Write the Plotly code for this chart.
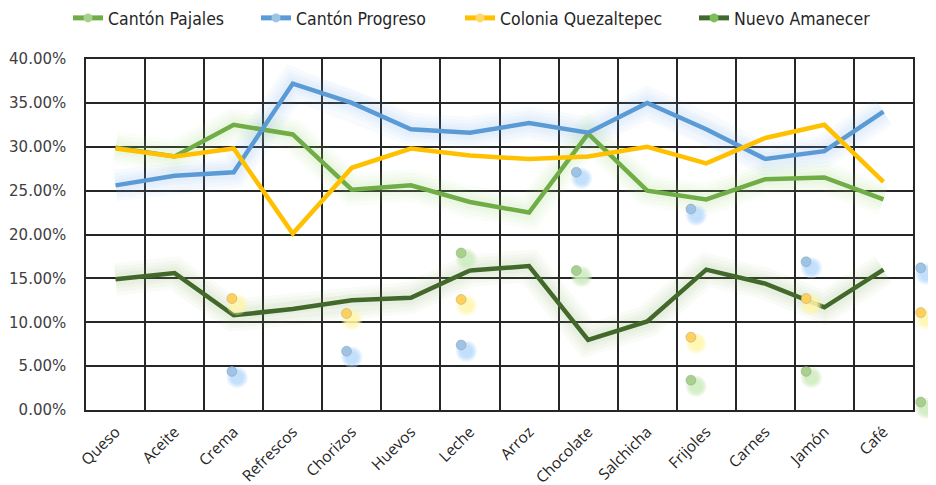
import plotly.graph_objects as go

categories = ["Queso", "Aceite", "Crema", "Refrescos", "Chorizos", "Huevos", "Leche",
              "Arroz", "Chocolate", "Salchicha", "Frijoles", "Carnes", "Jamón", "Café"]

canton_pajales = [29.9, 28.9, 32.5, 31.4, 25.1, 25.6, 23.7, 22.5, 31.5, 25.0, 24.0, 26.3, 26.5, 24.0]
canton_progreso = [25.6, 26.7, 27.1, 37.2, 35.0, 32.0, 31.6, 32.7, 31.6, 35.0, 32.0, 28.6, 29.5, 34.0]
colonia_quezaltepec = [29.8, 28.9, 29.8, 20.1, 27.6, 29.8, 29.0, 28.6, 28.9, 30.0, 28.1, 31.0, 32.5, 26.0]
nuevo_amanecer = [14.9, 15.6, 10.8, 11.5, 12.5, 12.8, 15.9, 16.4, 8.0, 10.1, 16.0, 14.4, 11.7, 16.0]

# stray marker dots visible in the reference (category position, value %)
dots_blue_x = [1.97, 3.91, 5.85, 7.80, 9.74, 11.69, 13.63]
dots_blue_y = [4.4, 6.7, 7.4, 27.1, 22.9, 16.9, 16.2]
dots_yellow_x = [1.97, 3.91, 5.85, 9.74, 11.69, 13.63]
dots_yellow_y = [12.7, 11.0, 12.6, 8.3, 12.7, 11.1]
dots_green_x = [5.85, 7.80, 9.74, 11.69, 13.63]
dots_green_y = [17.9, 15.9, 3.4, 4.4, 0.9]

series = [
    ("Cantón Pajales", canton_pajales, "#70ad47", "#a9d18e", (150, 210, 110)),
    ("Cantón Progreso", canton_progreso, "#5b9bd5", "#9dc3e6", (120, 180, 240)),
    ("Colonia Quezaltepec", colonia_quezaltepec, "#ffc000", "#ffd966", None),
    ("Nuevo Amanecer", nuevo_amanecer, "#43682b", "#7cbf5a", (140, 175, 100)),
]

# the page body adds an 8px offset; the figure fills the rest of the window
W, H = 928, 477
ML, MT, MB = 78, 51, 75
PLOT_W = 827            # width of the gridded area in px
FULL_W = W - ML         # area incl. right margin (for the dots past the last column)
legend_x = [60, 248, 452, 686]

xs = list(range(len(categories)))
n = len(categories)
fig = go.Figure()

# soft glow layers
for name, vals, col, mcol, glow in series:
    if glow:
        r, g, b = glow
        for w in (32, 25, 18, 12):
            fig.add_trace(go.Scatter(x=xs, y=vals, mode="lines", showlegend=False,
                                     hoverinfo="skip",
                                     line=dict(color=f"rgba({r},{g},{b},0.05)", width=w)))

# main lines
for name, vals, col, mcol, glow in series:
    fig.add_trace(go.Scatter(x=xs, y=vals, mode="lines", name=name, showlegend=False,
                             line=dict(color=col, width=4.5)))

# stray dots with blurred blobs (on a wider twin axis so the last column fits)
dot_sets = [
    (dots_blue_x, dots_blue_y, "#9dc3e6", (185, 220, 252)),
    (dots_yellow_x, dots_yellow_y, "#ffd15c", (255, 245, 170)),
    (dots_green_x, dots_green_y, "#a9d18e", (205, 236, 190)),
]
for dx, dy, c, blob in dot_sets:
    r, g, b = blob
    for s, a in ((21, 0.35), (17, 0.5), (13, 0.6)):
        fig.add_trace(go.Scatter(x=[v + 0.09 for v in dx], y=[v - 0.7 for v in dy], mode="markers",
                                 xaxis="x2", yaxis="y2",
                                 showlegend=False, hoverinfo="skip", cliponaxis=False,
                                 marker=dict(size=s, color=f"rgba({r},{g},{b},{a})", line=dict(width=0))))
    fig.add_trace(go.Scatter(x=dx, y=dy, mode="markers", showlegend=False, hoverinfo="skip",
                             xaxis="x2", yaxis="y2", cliponaxis=False,
                             marker=dict(size=10, color=c, line=dict(width=0.6, color="rgba(120,120,120,0.5)"))))

# legend entries, one legend each
legend_layout = {}
for i, (name, vals, col, mcol, glow) in enumerate(series):
    key = "legend" if i == 0 else f"legend{i + 1}"
    fig.add_trace(go.Scatter(x=[None], y=[None], mode="lines+markers", name=name,
                             legend=key, line=dict(color=col, width=5),
                             marker=dict(size=9, color=mcol)))
    legend_layout[key] = dict(
        x=legend_x[i] / W, xref="container", xanchor="left",
        y=1 - 10 / H, yref="container", yanchor="middle",
        orientation="h", bgcolor="rgba(0,0,0,0)",
        font=dict(family="Liberation Sans Narrow, DejaVu Sans Condensed", size=17.5, color="#262626"),
    )

grid = "#262626"
fig.update_layout(
    width=W, height=H,
    margin=dict(l=ML, r=0, t=MT, b=MB, autoexpand=False),
    paper_bgcolor="white", plot_bgcolor="rgba(0,0,0,0)",
    font=dict(family="DejaVu Sans", color="#404040"),
    showlegend=True,
    **legend_layout,
)
fig.update_layout(
    xaxis=dict(
        domain=[0, PLOT_W / FULL_W],
        range=[-0.5, n - 0.5], tickvals=xs, ticktext=categories, tickangle=-45,
        tickfont=dict(family="Open Sans", size=15.5, color="#262626"),
        showgrid=False, zeroline=False, ticks="", automargin=False, ticklabelstandoff=5,
        showline=True, mirror=True, linecolor=grid, linewidth=1.5,
        minor=dict(tick0=-0.5, dtick=1, showgrid=True, gridcolor=grid, gridwidth=1.5, ticks=""),
    ),
    yaxis=dict(
        range=[0, 40], dtick=5, tickformat=".2f", ticksuffix="%",
        tickfont=dict(family="DejaVu Sans", size=15, color="#404040"),
        showgrid=True, gridcolor=grid, gridwidth=1.5, zeroline=False, ticks="",
        automargin=False, ticklabelstandoff=15,
        showline=True, mirror=True, linecolor=grid, linewidth=1.5,
    ),
    xaxis2=dict(
        domain=[0, 1], anchor="y2",
        range=[-0.5, -0.5 + n * FULL_W / PLOT_W],
        visible=False, showgrid=False, zeroline=False,
    ),
    yaxis2=dict(
        anchor="x2", range=[0, 40], visible=False, showgrid=False, zeroline=False,
    ),
)

fig.write_html("out.html")
